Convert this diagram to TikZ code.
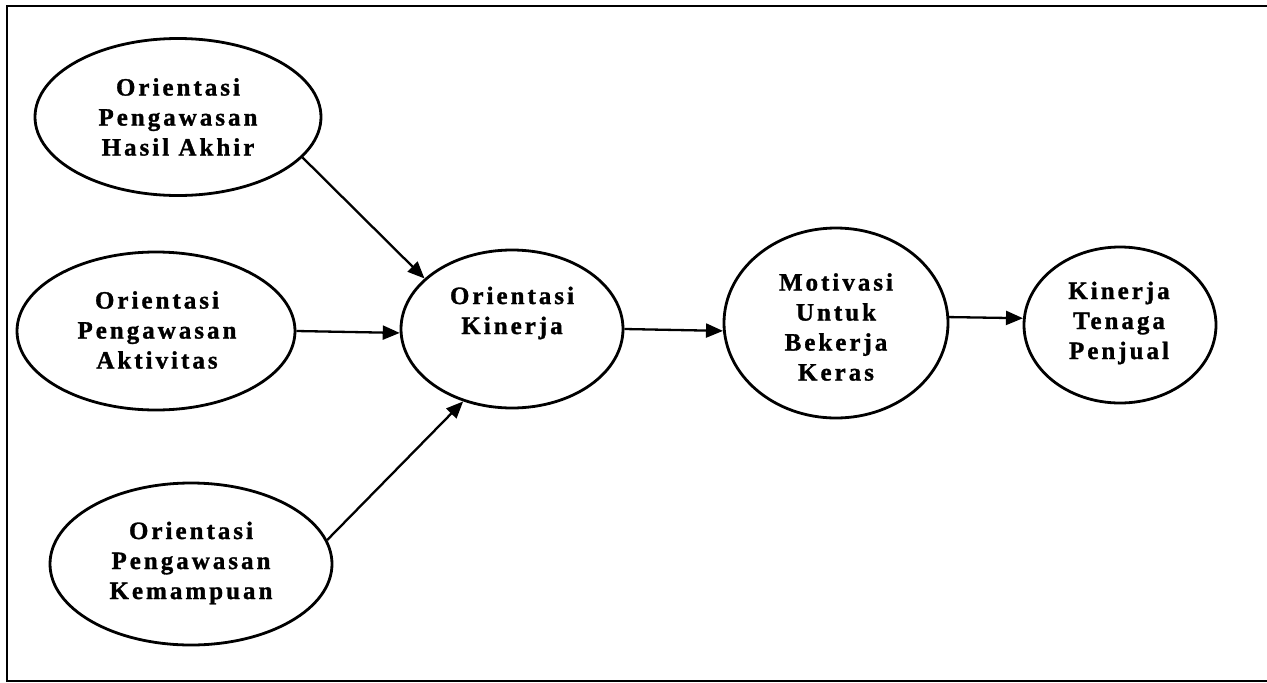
\documentclass[tikz,border=0pt]{standalone}
\usepackage{fontspec}
\usetikzlibrary{shapes.geometric,arrows.meta}
\newfontfamily\diagfont[LetterSpace=12, BoldFeatures={FakeBold=1.2}]{Liberation Serif}

\begin{document}
\begin{tikzpicture}[x=1pt,y=-1pt,
  oval/.style={ellipse, draw, line width=2.8pt, inner sep=0pt},
  lbl/.style={align=center, inner sep=0pt,
    font=\diagfont\bfseries\fontsize{25}{30}\selectfont},
  link/.style={line width=2.3pt, -{Triangle[length=17pt,width=14pt]}},
  frameline/.style={line width=2pt}]

\useasboundingbox (0,0) rectangle (1267,683);

% open frame: left, top and bottom sides
\coordinate (tl) at (7,6);
\coordinate (tr) at (1267,6);
\coordinate (bl) at (7,681);
\coordinate (br) at (1267,681);
\draw[frameline] (tr) -- (tl) -- (bl) -- (br);

% constructs
\node[oval, minimum width=286pt, minimum height=157pt] (e1) at (178,117) {};
\node[oval, minimum width=278pt, minimum height=158pt] (e2) at (156,331) {};
\node[oval, minimum width=282pt, minimum height=162pt] (e3) at (191,564) {};
\node[oval, minimum width=222pt, minimum height=158pt] (e4) at (512,329) {};
\node[oval, minimum width=224pt, minimum height=190pt] (e5) at (836,323) {};
\node[oval, minimum width=192pt, minimum height=156pt] (e6) at (1120,325) {};

% labels
\node[lbl] (t1) at (178,117) {Orientasi\\Pengawasan\\Hasil Akhir};
\node[lbl] (t2) at (157,330) {Orientasi\\Pengawasan\\Aktivitas};
\node[lbl] (t3) at (191,563) {Orientasi\\Pengawasan\\Kemampuan};
\node[lbl] (t4) at (512,313) {Orientasi\\Kinerja};
\node[lbl] (t5) at (836,327) {Motivasi\\Untuk\\Bekerja\\Keras};
\node[lbl] (t6) at (1119,323) {Kinerja\\Tenaga\\Penjual};

% paths
\draw[link] (e1.-18) -- (e4.150);
\draw[link] (e2.0) -- (e4.182);
\draw[link] (e3.10) -- (e4.236);
\draw[link] (e4.0) -- (e5.184);
\draw[link] (e5.3) -- (e6.176);

\end{tikzpicture}
\end{document}
